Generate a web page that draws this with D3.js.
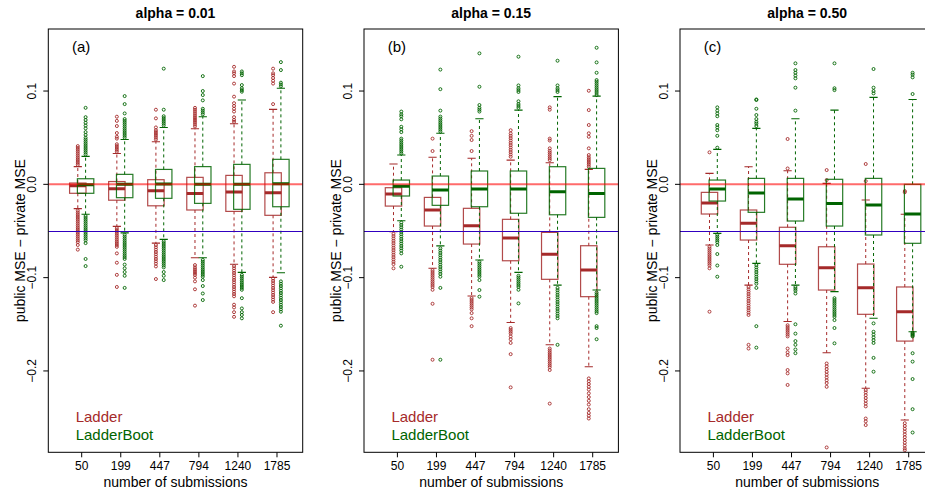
<!DOCTYPE html>
<html><head><meta charset="utf-8">
<script src="https://cdn.jsdelivr.net/npm/d3@7"></script>
<style>body{margin:0;background:#fff} svg{display:block} text{font-family:"Liberation Sans",Arial,Helvetica,sans-serif}</style>
</head><body>
<svg id="c" width="925" height="492"></svg>
<script>
const submissions = ["50","199","447","794","1240","1785"];
const panelTitles = ["alpha = 0.01","alpha = 0.15","alpha = 0.50"];
const panelLetters = ["(a)","(b)","(c)"];
const yTicks = [-0.2,-0.1,0,0.1];
const yTickLabels = ["\u22120.2","\u22120.1","0.0","0.1"];
const seriesNames = ["Ladder","LadderBoot"];
const refLines = [0, -0.05];

// box statistics: [lower whisker, Q1, median, Q3, upper whisker]
const ladderA = [
  [-0.026,-0.0096,-0.0015,0.0014,0.019],
  [-0.045,-0.017,-0.0047,0.003,0.033],
  [-0.063,-0.023,-0.0068,0.005,0.0457],
  [-0.0786,-0.0275,-0.0097,0.0075,0.0596],
  [-0.0857,-0.029,-0.0083,0.0096,0.065],
  [-0.0997,-0.0332,-0.009,0.0124,0.0804]];
const ladderBootA = [
  [-0.032,-0.0096,-0.0004,0.006,0.030],
  [-0.052,-0.0143,0.0,0.0107,0.048],
  [-0.059,-0.015,0.0003,0.016,0.061],
  [-0.0786,-0.0204,0.0,0.019,0.0725],
  [-0.0943,-0.0268,0.0,0.0214,0.0904],
  [-0.0947,-0.024,0.0006,0.0268,0.103]];
const ladderOutA = [
  [0.021,0.023,0.025,0.027,0.029,0.031,0.033,0.035,0.037,0.039,0.041,-0.028,-0.030,-0.032,-0.034,-0.036,-0.038,-0.040,-0.042,-0.044,-0.046,-0.048,-0.050,-0.052,-0.054,-0.056,-0.058,-0.060,-0.062,-0.065,-0.070],
  [0.035,0.037,0.039,0.041,0.043,0.049,0.051,0.055,0.0625,0.068,0.0725,-0.047,-0.049,-0.051,-0.053,-0.055,-0.057,-0.059,-0.061,-0.063,-0.065,-0.067,-0.074,-0.084,-0.097,-0.110],
  [0.048,0.050,0.052,0.054,0.056,0.058,0.061,0.0707,0.080,-0.065,-0.0675,-0.070,-0.0725,-0.075,-0.0775,-0.080,-0.0825,-0.085,-0.088,-0.1015],
  [0.062,0.064,0.066,0.068,0.070,0.072,0.074,0.076,0.078,0.080,0.082,-0.0865,-0.089,-0.091,-0.093,-0.095,-0.097,-0.100,-0.104,-0.1125,-0.130],
  [0.067,0.069,0.072,0.078,0.081,0.084,0.087,0.094,0.108,0.116,0.119,0.121,0.126,-0.0876,-0.090,-0.0925,-0.095,-0.0975,-0.100,-0.1025,-0.105,-0.1075,-0.110,-0.1125,-0.115,-0.1175,-0.120,-0.129,-0.132,-0.137,-0.142],
  [0.086,0.108,0.111,0.114,0.117,0.119,0.124,-0.101,-0.1035,-0.106,-0.1085,-0.111,-0.1135,-0.116,-0.1185,-0.121,-0.1235,-0.126,-0.137]];
const ladderBootOutA = [
  [0.032,0.034,0.036,0.038,0.040,0.042,0.044,0.046,0.048,0.050,0.053,0.056,0.060,0.063,0.066,0.069,0.072,0.082,-0.034,-0.036,-0.038,-0.040,-0.042,-0.044,-0.046,-0.048,-0.050,-0.052,-0.054,-0.056,-0.058,-0.060,-0.063,-0.080,-0.0876],
  [0.050,0.052,0.054,0.056,0.058,0.060,0.062,0.064,0.066,0.068,0.070,0.076,0.086,0.0946,-0.054,-0.056,-0.058,-0.060,-0.062,-0.064,-0.066,-0.068,-0.070,-0.072,-0.074,-0.076,-0.078,-0.080,-0.086,-0.090,-0.094,-0.098,-0.111],
  [0.063,0.065,0.067,0.069,0.071,0.073,0.080,0.124,-0.061,-0.063,-0.065,-0.067,-0.069,-0.071,-0.073,-0.075,-0.077,-0.079,-0.081,-0.083,-0.085,-0.087,-0.089,-0.094,-0.098,-0.1026],
  [0.075,0.077,0.079,0.081,0.090,0.0957,0.100,0.116,-0.081,-0.083,-0.085,-0.087,-0.089,-0.091,-0.093,-0.095,-0.097,-0.099,-0.1026,-0.109,-0.117,-0.124],
  [0.0993,0.101,0.103,0.1064,0.117,0.119,0.121,-0.097,-0.099,-0.101,-0.103,-0.105,-0.107,-0.109,-0.111,-0.113,-0.122,-0.133,-0.137,-0.140,-0.1436],
  [0.105,0.107,0.109,0.1225,0.131,-0.104,-0.1065,-0.109,-0.1115,-0.114,-0.1165,-0.119,-0.1215,-0.124,-0.1265,-0.129,-0.1315,-0.134,-0.1365,-0.1515]];

const ladderB = [
  [-0.0508,-0.0233,-0.0104,-0.0036,0.0218],
  [-0.09,-0.0447,-0.0275,-0.014,0.029],
  [-0.1197,-0.064,-0.0443,-0.0257,0.0279],
  [-0.148,-0.0819,-0.0575,-0.0375,0.026],
  [-0.172,-0.1018,-0.075,-0.0515,0.0232],
  [-0.1955,-0.1204,-0.0918,-0.0658,0.016]];
const ladderBootB = [
  [-0.039,-0.0125,-0.0021,0.0046,0.0314],
  [-0.066,-0.0225,-0.0061,0.0089,0.0547],
  [-0.0811,-0.024,-0.005,0.0143,0.0703],
  [-0.0943,-0.031,-0.005,0.0143,0.0796],
  [-0.108,-0.0326,-0.0079,0.0189,0.094],
  [-0.1133,-0.0354,-0.0097,0.0171,0.0946]];
const ladderOutB = [
  [-0.053,-0.0555,-0.058,-0.0605,-0.063,-0.0655,-0.068,-0.0705,-0.073,-0.0755,-0.078,-0.0805,-0.083,-0.0855,-0.090],
  [0.0357,0.049,-0.092,-0.094,-0.096,-0.098,-0.100,-0.102,-0.104,-0.106,-0.108,-0.110,-0.113,-0.128,-0.188],
  [0.0357,0.0475,0.052,0.057,-0.122,-0.124,-0.126,-0.128,-0.130,-0.132,-0.134,-0.138,-0.1436,-0.152],
  [0.0296,0.032,0.0345,0.037,0.0395,0.042,0.0445,0.047,0.0495,0.052,0.0545,0.058,-0.154,-0.156,-0.158,-0.160,-0.163,-0.166,-0.170,-0.182,-0.2176],
  [0.026,0.028,0.030,0.032,0.034,0.036,0.0386,0.047,0.049,0.080,0.0825,-0.176,-0.178,-0.180,-0.182,-0.184,-0.186,-0.188,-0.190,-0.192,-0.194,-0.196,-0.199,-0.235],
  [0.0189,0.021,0.023,0.025,0.027,0.029,0.0314,0.0386,0.051,0.0547,0.0636,0.0796,0.1003,-0.208,-0.211,-0.214,-0.217,-0.220,-0.224,-0.228,-0.232,-0.236,-0.241,-0.245,-0.248,-0.251]];
const ladderBootOutB = [
  [0.033,0.035,0.037,0.039,0.041,0.043,0.045,0.047,0.049,0.056,0.059,0.0617,0.0697,0.073,0.075,0.078,-0.041,-0.0435,-0.046,-0.0485,-0.051,-0.0535,-0.056,-0.0585,-0.061,-0.0635,-0.066,-0.0685,-0.071,-0.074,-0.0883],
  [0.0565,0.0585,0.0605,0.0625,0.0645,0.0665,0.0685,0.0705,0.0726,0.079,0.102,0.123,-0.0686,-0.071,-0.0735,-0.076,-0.0785,-0.081,-0.0835,-0.086,-0.0885,-0.091,-0.0935,-0.096,-0.099,-0.111,-0.188],
  [0.078,0.080,0.082,0.085,0.1046,0.1404,-0.083,-0.085,-0.087,-0.089,-0.091,-0.093,-0.095,-0.097,-0.099,-0.1026,-0.1133,-0.1204],
  [0.082,0.084,0.086,0.089,0.099,0.101,0.103,0.106,0.1368,-0.098,-0.100,-0.102,-0.104,-0.106,-0.108,-0.110,-0.113,-0.1276],
  [0.099,0.101,0.103,0.106,0.1325,-0.111,-0.1135,-0.116,-0.1185,-0.121,-0.1235,-0.126,-0.1285,-0.131,-0.1335,-0.136,-0.1385,-0.141,-0.1436,-0.172],
  [0.0957,0.098,0.100,0.102,0.104,0.106,0.108,0.110,0.1118,0.1196,0.1307,0.1464,-0.116,-0.118,-0.120,-0.122,-0.124,-0.126,-0.128,-0.130,-0.132,-0.134,-0.136,-0.138,-0.152,-0.154,-0.166]];

const ladderC = [
  [-0.065,-0.0318,-0.020,-0.0086,0.0118],
  [-0.108,-0.0597,-0.0418,-0.0275,0.0189],
  [-0.147,-0.0857,-0.0658,-0.046,0.0146],
  [-0.1805,-0.1133,-0.0894,-0.0669,0.001],
  [-0.2186,-0.1393,-0.1108,-0.0854,-0.0168],
  [-0.2526,-0.168,-0.1365,-0.110,-0.032]];
const ladderBootC = [
  [-0.0525,-0.0179,-0.005,0.0046,0.0375],
  [-0.0847,-0.030,-0.0093,0.0064,0.060],
  [-0.108,-0.0393,-0.0158,0.0064,0.0703],
  [-0.115,-0.0447,-0.0204,0.0054,0.0796],
  [-0.1436,-0.0543,-0.0222,0.0064,0.0932],
  [-0.158,-0.0632,-0.0318,0.0,0.091]];
const ladderOutC = [
  [0.0343,-0.067,-0.069,-0.071,-0.073,-0.075,-0.077,-0.079,-0.081,-0.083,-0.085,-0.087,-0.090,-0.1365],
  [-0.110,-0.1125,-0.115,-0.1175,-0.120,-0.1225,-0.125,-0.1275,-0.130,-0.1325,-0.135,-0.1375,-0.140,-0.172,-0.176],
  [0.017,0.0486,-0.151,-0.153,-0.155,-0.157,-0.159,-0.161,-0.163,-0.176,-0.180,-0.183,-0.199,-0.2026,-0.215],
  [0.0046,0.0153,-0.192,-0.195,-0.198,-0.201,-0.204,-0.207,-0.210,-0.213,-0.217,-0.282],
  [0.0035,0.0218,-0.2205,-0.223,-0.226,-0.229,-0.232,-0.235,-0.238,-0.251,-0.254,-0.258],
  [-0.0072,-0.0085,-0.256,-0.259,-0.262,-0.265,-0.268,-0.271,-0.274,-0.277,-0.280,-0.283,-0.285]];
const ladderBootOutC = [
  [0.0393,0.052,0.058,0.061,0.0636,0.073,0.076,0.079,0.0825,-0.054,-0.056,-0.058,-0.060,-0.062,-0.065,-0.0747,-0.087,-0.099],
  [0.0625,0.065,0.067,0.070,0.0743,0.081,0.0904,0.091,-0.0865,-0.089,-0.0915,-0.094,-0.0965,-0.099,-0.1015,-0.104,-0.1065,-0.111,-0.152,-0.175],
  [0.079,0.1036,0.1136,0.1166,0.1196,0.1225,0.1297,-0.110,-0.112,-0.114,-0.117,-0.150,-0.160,-0.168,-0.172,-0.177,-0.181],
  [0.101,0.103,0.1297,-0.122,-0.124,-0.126,-0.128,-0.130,-0.132,-0.134,-0.136,-0.138,-0.140,-0.142,-0.1455,-0.154,-0.1704],
  [0.0975,0.100,0.1036,0.1236,-0.149,-0.158,-0.161,-0.164,-0.167,-0.170,-0.186,-0.2008],
  [0.0968,0.1147,0.1175,0.1196,-0.159,-0.160,-0.161,-0.162,-0.163,-0.181,-0.190,-0.2087,-0.241,-0.266]];

const panels = [
  {stats:[ladderA, ladderBootA], outs:[ladderOutA, ladderBootOutA]},
  {stats:[ladderB, ladderBootB], outs:[ladderOutB, ladderBootOutB]},
  {stats:[ladderC, ladderBootC], outs:[ladderOutC, ladderBootOutC]}];

const colors = ["#a52a2a", "#006400"];
const offsets = [-0.1, 0.1];
const boxW = 0.42;
const panelLefts = [48.3, 364, 680];
const panelW = 254.4, plotTop = 29, plotBottom = 452.3;

const svg = d3.select("#c");
const y = d3.scaleLinear().domain([-0.2872, 0.1665]).range([plotBottom, plotTop]);

panels.forEach((p, pi) => {
  const L = panelLefts[pi];
  const x = d3.scaleLinear().domain([0.145, 6.658]).range([L, L + panelW]);
  const g = svg.append("g");
  const cid = "clip" + pi;
  svg.append("clipPath").attr("id", cid).append("rect")
    .attr("x", L).attr("y", plotTop).attr("width", panelW).attr("height", plotBottom - plotTop);
  const pg = g.append("g").attr("clip-path", `url(#${cid})`);

  p.stats.forEach((series, si) => {
    const col = colors[si];
    series.forEach((s, gi) => {
      const cx = x(gi + 1 + offsets[si]);
      const hw = (x(boxW) - x(0)) / 2;
      const [wlo, q1, med, q3, whi] = s;
      pg.append("line").attr("x1", cx).attr("x2", cx).attr("y1", y(q3)).attr("y2", y(whi))
        .attr("stroke", col).attr("stroke-width", 1).attr("stroke-dasharray", "3,3");
      pg.append("line").attr("x1", cx).attr("x2", cx).attr("y1", y(q1)).attr("y2", y(wlo))
        .attr("stroke", col).attr("stroke-width", 1).attr("stroke-dasharray", "3,3");
      [wlo, whi].forEach(v => {
        pg.append("line").attr("x1", cx - hw / 2).attr("x2", cx + hw / 2).attr("y1", y(v)).attr("y2", y(v))
          .attr("stroke", col).attr("stroke-width", 1.1);
      });
      pg.append("rect").attr("x", cx - hw).attr("y", y(q3)).attr("width", 2 * hw).attr("height", y(q1) - y(q3))
        .attr("fill", "none").attr("stroke", col).attr("stroke-width", 1.2).attr("stroke-opacity", 0.85);
      pg.append("line").attr("x1", cx - hw).attr("x2", cx + hw).attr("y1", y(med)).attr("y2", y(med))
        .attr("stroke", col).attr("stroke-width", 3);
      pg.selectAll(null).data(p.outs[si][gi]).enter().append("circle")
        .attr("cx", cx).attr("cy", d => y(d)).attr("r", 1.5)
        .attr("fill", "none").attr("stroke", col).attr("stroke-width", 0.9);
    });
  });

  pg.append("line").attr("x1", L).attr("x2", L + panelW).attr("y1", y(refLines[0])).attr("y2", y(refLines[0]))
    .attr("stroke", "#ff0000").attr("stroke-opacity", 0.58).attr("stroke-width", 2);
  const yb = Math.round(y(refLines[1])) + 0.5;
  pg.append("line").attr("x1", L).attr("x2", L + panelW).attr("y1", yb).attr("y2", yb)
    .attr("stroke", "#3000c0").attr("stroke-width", 1);

  g.append("rect").attr("x", L).attr("y", plotTop).attr("width", panelW).attr("height", plotBottom - plotTop)
    .attr("fill", "none").attr("stroke", "#000").attr("stroke-width", 1);

  yTicks.forEach((t, i) => {
    g.append("line").attr("x1", L - 5).attr("x2", L).attr("y1", y(t)).attr("y2", y(t)).attr("stroke", "#000");
    g.append("text").attr("transform", `translate(${L - 16.3},${y(t)}) rotate(-90)`)
      .attr("text-anchor", "middle").attr("dominant-baseline", "central")
      .attr("font-size", 12).text(yTickLabels[i]);
  });
  g.append("text").attr("transform", `translate(${L - 28.3},${(plotTop + plotBottom) / 2}) rotate(-90)`)
    .attr("text-anchor", "middle").attr("dominant-baseline", "central")
    .attr("font-size", 14).text("public MSE \u2212 private MSE");

  submissions.forEach((s, i) => {
    g.append("line").attr("x1", x(i + 1)).attr("x2", x(i + 1)).attr("y1", plotBottom).attr("y2", plotBottom + 5).attr("stroke", "#000");
    g.append("text").attr("x", x(i + 1)).attr("y", 470).attr("text-anchor", "middle")
      .attr("font-size", 12).text(s);
  });
  g.append("text").attr("x", L + panelW / 2).attr("y", 486.5).attr("text-anchor", "middle")
    .attr("font-size", 14).text("number of submissions");

  g.append("text").attr("x", L + panelW / 2).attr("y", 18).attr("text-anchor", "middle")
    .attr("font-size", 14).attr("font-weight", "bold").text(panelTitles[pi]);
  g.append("text").attr("x", L + 23.7).attr("y", 52).attr("font-size", 15).text(panelLetters[pi]);
  seriesNames.forEach((n, i) => {
    g.append("text").attr("x", L + 27.4).attr("y", 422 + 18 * i).attr("font-size", 15)
      .attr("fill", colors[i]).text(n);
  });
});
</script>
</body></html>
